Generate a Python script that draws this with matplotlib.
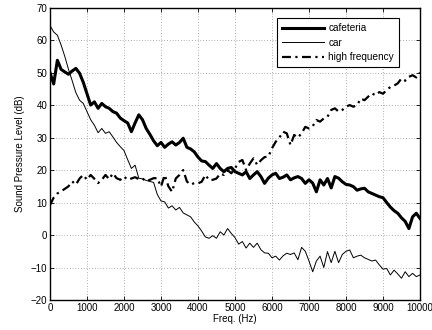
import numpy as np
import matplotlib
matplotlib.use("Agg")
import matplotlib.pyplot as plt

plt.rcParams["font.family"] = ["Liberation Sans", "DejaVu Sans"]

# =========================================================
# DATA (100 Hz steps)
# =========================================================
freq = np.arange(0, 10001, 100)

cafeteria = [
    50, 46.5, 53.8, 51, 50.2, 49.5, 50.5, 51.3, 49.8, 47,
    43.5, 40, 41, 39, 40.5, 39.5, 39, 38, 37.5, 36,
    35.2, 34.5, 31.8, 34.5, 37, 35.5, 32.8, 31, 29, 27.5,
    28.5, 27, 28, 28.7, 27.7, 28.5, 29.8, 27, 26.5, 25.6,
    24, 22.8, 22.6, 21.5, 20.5, 22, 20.5, 19.5, 20.5, 20.8,
    19.5, 19, 18.5, 19.5, 17.4, 18.5, 19.5, 18, 15.9, 17.5,
    18.5, 19, 17.4, 17.8, 18.5, 17, 17.6, 18, 17.4, 15.9,
    17, 16, 13.3, 17, 15.4, 17.4, 14.5, 18, 17.5, 16.4,
    15.6, 15.4, 14.9, 13.8, 14.2, 14.4, 13.3, 12.8, 12.3, 11.8,
    11.5, 10, 8.6, 7.5, 6.7, 5.3, 4.2, 2.0, 5.6, 6.7,
    5.1,
]

car = [
    64.5, 62.5, 61.5, 58.5, 55, 51, 47.5, 43.8, 41.5, 40.5,
    38, 35.5, 33.8, 31.5, 32.8, 31.3, 31.8, 30.2, 28.5, 27.2,
    26, 23.2, 20.5, 21.5, 17.5, 17.3, 16.8, 16.5, 16.2, 12.5,
    10.5, 10.2, 8.3, 9, 7.7, 8.5, 6.8, 6.2, 5.6, 4,
    2.8, 1.2, -0.6, -1, -0.2, -1, 1, 0, 2, 0.5,
    -0.8, -2.8, -2, -4, -2.5, -3.8, -2.5, -4.5, -5.5, -5.6,
    -7, -6.5, -7.7, -6.4, -5.6, -6, -5.5, -7.6, -3.8, -5,
    -8, -11.3, -8, -6.5, -10, -5.1, -8.5, -5, -8.5, -6,
    -5, -4.6, -7, -6.5, -6.2, -7, -7.5, -8, -7.7, -9.2,
    -10.5, -10.3, -12.3, -10.8, -12, -13.3, -11.3, -12.8, -11.8, -12.8,
    -12.3,
]

high_freq = [
    9.2, 11.5, 12.8, 13.5, 14.2, 15, 16.5, 15.5, 17.4, 18.5,
    17, 18.5, 17.3, 16, 17, 18.5, 17.2, 19, 17.5, 17,
    18, 17, 17.4, 17.8, 17.2, 17.4, 16.5, 17, 17.5, 17.5,
    14.9, 18.5, 15, 13.3, 17.4, 18.5, 20, 16.5, 15.5, 16,
    15.9, 16.4, 18.5, 16.9, 17, 17.4, 18.9, 18.5, 20, 19,
    20.5, 22.5, 23.1, 20, 22, 23.6, 21.6, 23, 24, 24.1,
    26.7, 28.7, 30, 31.8, 31.3, 27.7, 30.8, 30, 31.3, 33.3,
    32.8, 33.5, 35.4, 34.9, 35.9, 36.4, 38.5, 39, 38, 38.5,
    39.5, 40, 39.5, 40, 42, 41.5, 42.6, 43.6, 43, 44,
    43.5, 44.6, 45.6, 46, 46.7, 48.2, 47.5, 48.7, 49.2, 48.5,
    50,
]

x_ticks = np.arange(0, 10001, 1000)
y_ticks = np.arange(-20, 71, 10)

# =========================================================
# PLOT
# =========================================================
fig = plt.figure(figsize=(4.32, 3.30), dpi=100)
ax = fig.add_axes([0.1157, 0.0909, 0.8565, 0.886])

ax.plot(freq, cafeteria, color="black", linewidth=2.2, label="cafeteria")
ax.plot(freq, car, color="black", linewidth=0.7, label="car")
ax.plot(freq, high_freq, color="black", linewidth=1.6,
        linestyle=(0, (4, 2, 1, 2)), label="high frequency")

ax.set_xlim(0, 10000)
ax.set_ylim(-20, 70)
ax.set_xticks(x_ticks)
ax.set_yticks(y_ticks)
ax.grid(True, linestyle=(0, (1, 3)), color="black", linewidth=0.5, alpha=0.6)

ax.tick_params(direction="in", top=True, right=True, labelsize=7,
               length=3, width=0.6, pad=2)
for s in ax.spines.values():
    s.set_linewidth(1.0)

ax.set_xlabel("Freq. (Hz)", fontsize=7, labelpad=1)
ax.set_ylabel("Sound Pressure Level (dB)", fontsize=7, labelpad=4)

leg = ax.legend(loc="upper right", bbox_to_anchor=(0.943, 0.964),
                borderaxespad=0, fontsize=7.2, handlelength=4.2,
                fancybox=False, framealpha=1, edgecolor="black",
                borderpad=0.5, labelspacing=0.45, handletextpad=0.4)
leg.get_frame().set_linewidth(0.8)

fig.savefig("out.png", dpi=100)
